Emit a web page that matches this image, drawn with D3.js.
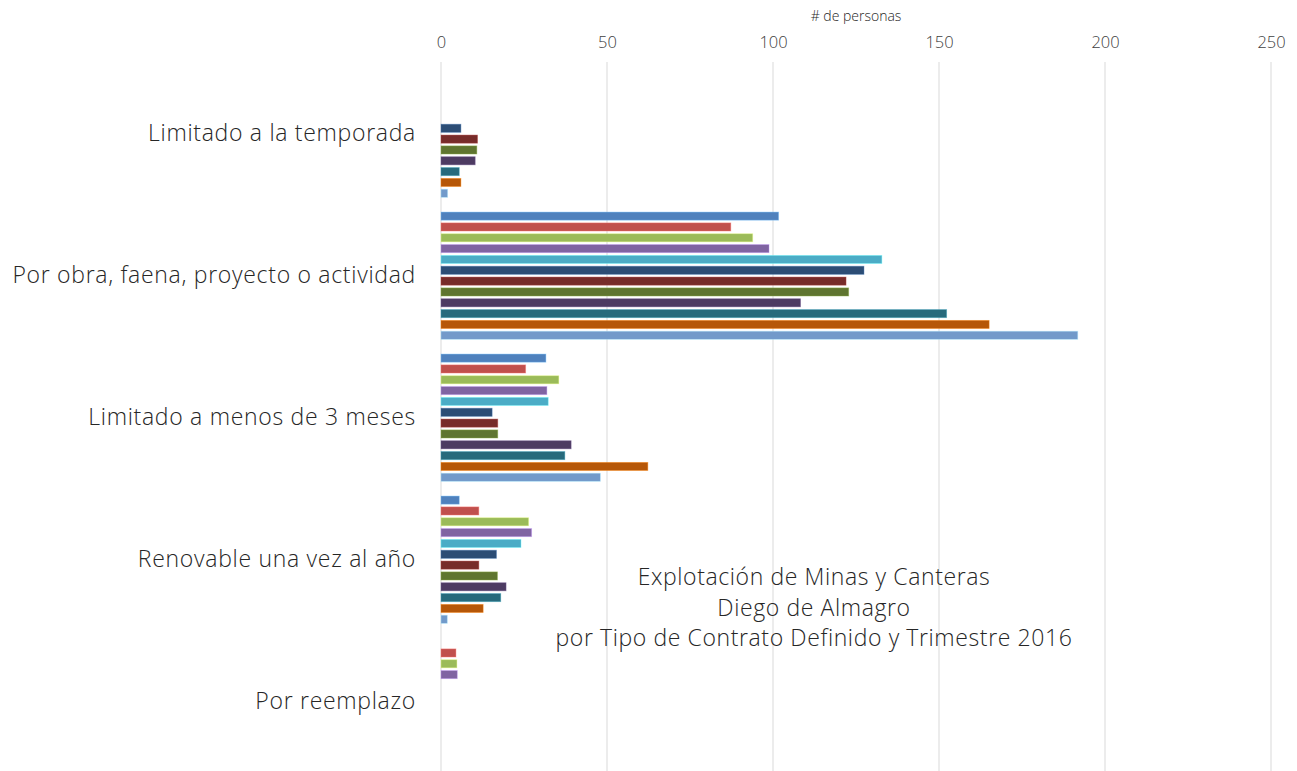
<!DOCTYPE html>
<html><head><meta charset="utf-8">
<script src="https://cdn.jsdelivr.net/npm/d3@7/dist/d3.min.js"></script>
<style>html,body{margin:0;padding:0;background:#fff;overflow:hidden}</style>
</head><body><svg id="c" width="1297" height="771"></svg>
<script>
const categories = ["Limitado a la temporada","Por obra, faena, proyecto o actividad","Limitado a menos de 3 meses","Renovable una vez al año","Por reemplazo"];
const seriesNames = ["S1","S2","S3","S4","S5","S6","S7","S8","S9","S10","S11","S12"];
const seriesColors = ["#4F81BD","#C0504D","#9BBB59","#8064A2","#4BACC6","#2C4D75","#772C2A","#5F7530","#4D3B62","#276A7C","#B65708","#729ACA"];
// values[category][series]
const valLimitadoTemporada = [0,0,0,0,0,6,11,10.8,10.3,5.5,6,2];
const valPorObra = [101.7,87.3,93.9,98.8,132.8,127.4,122,122.8,108.3,152.3,165.1,191.8];
const valMenos3Meses = [31.6,25.5,35.5,31.9,32.3,15.4,17.1,17.1,39.2,37.3,62.3,48];
const valRenovable = [5.5,11.4,26.4,27.3,24.1,16.7,11.4,17,19.6,18,12.7,1.9];
const valReemplazo = [0,4.5,4.8,4.9,0,0,0,0,0,0,0,0];
const values = [valLimitadoTemporada,valPorObra,valMenos3Meses,valRenovable,valReemplazo];
const xTicks = [0,50,100,150,200,250];
const titleLines = ["Explotación de Minas y Canteras","Diego de Almagro","por Tipo de Contrato Definido y Trimestre 2016"];
const axisTitle = "# de personas";

const svg = d3.select("#c");
const font = "'Open Sans', Lato, sans-serif";
const x = d3.scaleLinear().domain([0,250]).range([441,1271]);
const y0 = d3.scaleBand().domain(categories).range([62,772]);
const y1 = d3.scaleBand().domain(seriesNames).range([6, y0.bandwidth()-6]).paddingInner(0.25).paddingOuter(0.125);

// grid
svg.append("g").selectAll("line").data(xTicks).join("line")
  .attr("x1",d=>x(d)).attr("x2",d=>x(d)).attr("y1",62).attr("y2",771)
  .attr("stroke","#d9d9d9").attr("stroke-width",1);

// top axis labels
const ax = d3.axisTop(x).tickValues(xTicks).tickSize(0).tickPadding(0);
const axg = svg.append("g").attr("transform","translate(0,48)").call(ax);
axg.select(".domain").remove();
axg.selectAll("text").attr("font-family",font).attr("font-weight",300).attr("font-size",16.5).attr("fill","#404040");

svg.append("text").attr("x",856).attr("y",21).attr("text-anchor","middle")
  .attr("font-family",font).attr("font-weight",300).attr("font-size",14).attr("fill","#262626").text(axisTitle);

// bars
const groups = svg.append("g").selectAll("g").data(categories).join("g")
  .attr("transform",d=>`translate(0,${y0(d)+0.7})`);
groups.selectAll("rect").data((d,i)=>values[i].map((v,j)=>({v,j})).filter(e=>e.v>0)).join("rect")
  .attr("x",x(0)).attr("y",e=>y1(seriesNames[e.j]))
  .attr("width",e=>x(e.v)-x(0)).attr("height",y1.bandwidth())
  .attr("fill",e=>seriesColors[e.j])
  .attr("stroke",e=>d3.color(seriesColors[e.j]).brighter(1.2)).attr("stroke-opacity",0.5).attr("stroke-width",0.8);

// category labels
svg.append("g").selectAll("text").data(categories).join("text")
  .attr("x",416).attr("y",d=>y0(d)+y0.bandwidth()/2).attr("dy","0.35em")
  .attr("text-anchor","end").attr("font-family",font).attr("font-weight",300).attr("font-size",23)
  .attr("letter-spacing",0.7).attr("fill","#262626").text(d=>d);

// title
svg.append("g").selectAll("text").data(titleLines).join("text")
  .attr("x",814).attr("y",(d,i)=>585+i*30.5).attr("text-anchor","middle")
  .attr("font-family",font).attr("font-weight",300).attr("font-size",23)
  .attr("letter-spacing",0.6).attr("fill","#262626").text(d=>d);
</script></body></html>
